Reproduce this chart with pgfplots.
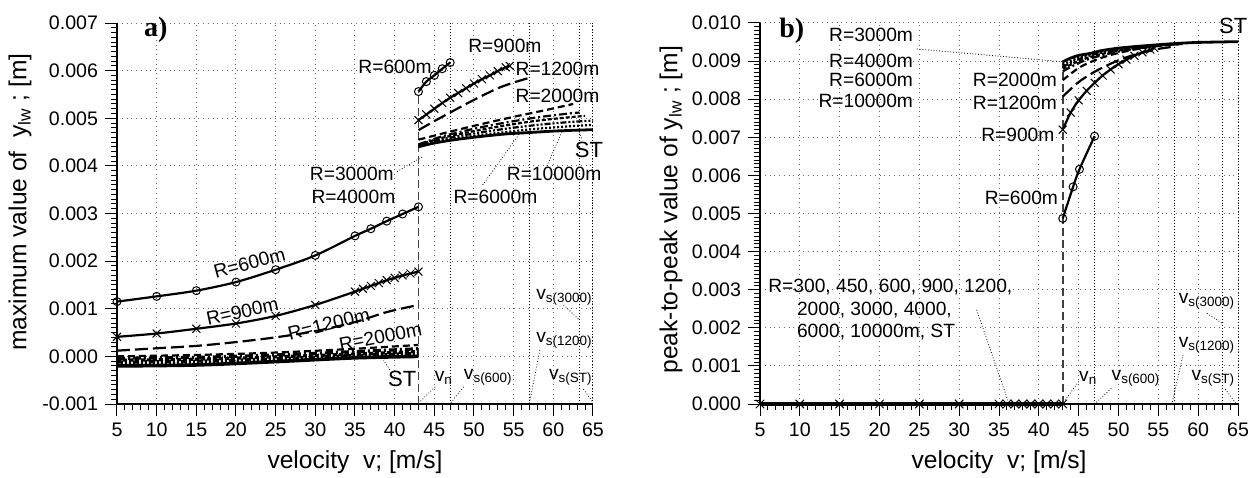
\documentclass[border=0pt]{standalone}
\usepackage{fontspec}
\setmainfont{Liberation Sans}
\newfontfamily\serifbf{Liberation Serif}
\usepackage{pgfplots}
\pgfplotsset{compat=1.18}
\tikzset{
  lab/.style={font=\fontsize{9.6bp}{11bp}\selectfont, inner sep=0pt},
  lead/.style={densely dotted, line width=0.4bp, black},
}
\pgfplotsset{
  myaxis/.style={
    scale only axis, height=190.5bp,
    xmin=5, xmax=65, xtick={5,10,...,65}, minor x tick num=4, minor y tick num=9,
    axis x line*=bottom, axis y line*=left,
    axis line style={-, line width=0.6bp},
    tick align=outside, major tick length=6bp, minor tick length=3bp,
    tick style={black, line width=0.5bp},
    grid=major, major grid style={dotted, black!60, line width=0.5bp},
    scaled y ticks=false,
    /pgf/number format/assume math mode=true,
    yticklabel style={/pgf/number format/fixed, /pgf/number format/fixed zerofill, /pgf/number format/precision=3},
    ticklabel style={font=\fontsize{9.8bp}{11bp}\selectfont},
    label style={font=\fontsize{12.3bp}{14bp}\selectfont},
    clip=false,
    xlabel={velocity\ \ v; [m/s]},
    xlabel style={at={(axis description cs:0.5,-0.152)}, anchor=center},
  },
  R600/.style={black, line width=1.1bp, smooth, mark=o, mark size=2bp, mark options={solid, line width=0.5bp}},
  R900/.style={black, line width=1.1bp, smooth, mark=x, mark size=2.8bp, mark options={solid, line width=0.5bp}},
  R1200/.style={black, line width=1.1bp, smooth, dash pattern=on 6.5bp off 2.5bp},
  R2000/.style={black, line width=1.1bp, smooth, dash pattern=on 3.5bp off 2bp},
  R3000/.style={black, line width=1.1bp, smooth, dash pattern=on 4bp off 1.5bp on 1bp off 1.5bp},
  R4000/.style={black, line width=1.1bp, smooth, dash pattern=on 2bp off 1bp},
  R6000/.style={black, line width=1.1bp, smooth, dash pattern=on 3bp off 1bp on 1bp off 1bp on 1bp off 1bp},
  R10000/.style={black, line width=1.1bp, smooth, dash pattern=on 1bp off 1bp},
  RST/.style={black, line width=1.4bp, smooth},
  vnline/.style={black!75, dash pattern=on 4bp off 2bp, line width=0.8bp},
  vsline/.style={black, densely dotted, line width=0.5bp},
}
\begin{document}
\begin{tikzpicture}
\path[use as bounding box] (-58.5bp,-37bp) rectangle (571.5bp,202bp);
% ================= a) =================
\begin{axis}[myaxis, width=238bp, at={(0,0)}, anchor=south west,
  ymin=-0.001, ymax=0.007,
  ytick={-0.001,0,0.001,0.002,0.003,0.004,0.005,0.006,0.007},
  ylabel={maximum value of\ \ y\textsubscript{lw} ; [m]},
  ylabel style={at={(axis description cs:-0.204,0.53)}, anchor=center},
]
\addplot[vnline] coordinates {(43,-0.001) (43,0.00556)};
\addplot[vsline] coordinates {(47,-0.001) (47,0.007)};
\addplot[vsline] coordinates {(57,-0.001) (57,0.007)};
\addplot[vsline] coordinates {(63.3,-0.001) (63.3,0.007)};
\addplot[vsline] coordinates {(65,-0.001) (65,0.007)};
% lower branch (v < vn)
\addplot[RST, line width=1.8bp] coordinates {(5,-0.0002)(15,-0.00018)(25,-0.00011)(35,-0.00003)(43,0.0)};
\addplot[R10000, line width=1.6bp] coordinates {(5,-0.00016)(15,-0.00014)(25,-0.00008)(35,-0.00001)(43,0.00003)};
\addplot[R6000, line width=1.6bp] coordinates {(5,-0.00012)(15,-0.0001)(25,-0.00005)(35,0.00002)(43,0.00006)};
\addplot[R4000, line width=1.6bp] coordinates {(5,-0.00008)(15,-0.00006)(25,-0.00001)(35,0.00005)(43,0.0001)};
\addplot[R3000, line width=1.6bp] coordinates {(5,-0.00004)(15,-0.00002)(25,0.00003)(35,0.0001)(43,0.00016)};
\addplot[R2000] coordinates {(5,0.0)(15,0.00003)(25,0.00008)(35,0.00016)(43,0.00024)};
\addplot[R1200] coordinates {(5,0.00012)(10,0.00017)(15,0.00022)(20,0.0003)(25,0.0004)(30,0.00053)(35,0.00072)(39,0.00093)(43,0.00108)};
\addplot[R900] coordinates {(5,0.00041)(10,0.00048)(15,0.00058)(20,0.00069)(25,0.00085)(30,0.00108)(35,0.00136)(36,0.00142)(37,0.00148)(38,0.00154)(39,0.0016)(40,0.00165)(41,0.0017)(42,0.00174)(43,0.00178)};
\addplot[R600] coordinates {(5,0.00115)(10,0.00126)(15,0.00138)(20,0.00156)(25,0.00182)(30,0.00212)(35,0.00253)(37,0.00268)(39,0.00284)(41,0.00299)(43,0.00314)};
% upper branch (v > vn)
\addplot[RST] coordinates {(43,0.0044)(45,0.00448)(48,0.00456)(51,0.00462)(54,0.00467)(57,0.0047)(60,0.00473)(63,0.00475)(65,0.00476)};
\addplot[R10000] coordinates {(43,0.00442)(46,0.00453)(50,0.00463)(54,0.00471)(58,0.00478)(62,0.00483)(65,0.00486)};
\addplot[R6000] coordinates {(43,0.00443)(46,0.00456)(50,0.00468)(54,0.00478)(58,0.00486)(62,0.00492)(65,0.00495)};
\addplot[R4000] coordinates {(43,0.00444)(46,0.00459)(50,0.00473)(54,0.00485)(58,0.00495)(62,0.00502)(64,0.00505)};
\addplot[R3000] coordinates {(43,0.00445)(46,0.00462)(50,0.00478)(54,0.00491)(58,0.00502)(62,0.0051)(63.3,0.00512)};
\addplot[R2000] coordinates {(43,0.00455)(47,0.00472)(51,0.00488)(55,0.00503)(59,0.00517)(62.5,0.0053)};
\addplot[R1200] coordinates {(43,0.00475)(45,0.00494)(47,0.00512)(49,0.0053)(51,0.00547)(53,0.00563)(55,0.00575)(57,0.00585)};
\addplot[R900] coordinates {(43,0.00496)(44,0.00508)(45,0.0052)(46,0.00532)(47,0.00543)(48,0.00553)(49,0.00563)(50,0.00573)(51,0.00582)(52,0.0059)(53,0.00599)(54,0.00607)(54.5,0.0061)};
\addplot[R600] coordinates {(43,0.00556)(44,0.00577)(45,0.0059)(46,0.00604)(47,0.00617)};
% labels
\node[font=\serifbf\bfseries\fontsize{14bp}{16bp}\selectfont, inner sep=0pt] at (axis cs:9.9,0.00686) {a)};
\node[lab, anchor=east] at (axis cs:44.7,0.00608) {R=600m};
\node[lab] at (axis cs:53.9,0.00652) {R=900m};
\node[lab, anchor=west] at (axis cs:55.2,0.00603) {R=1200m};
\node[lab, anchor=west] at (axis cs:55.2,0.00547) {R=2000m};
\node[lab, font=\fontsize{11bp}{12bp}\selectfont] at (axis cs:64.5,0.00434) {ST};
\node[lab] at (axis cs:60.1,0.00383) {R=10000m};
\node[lab] at (axis cs:52.7,0.00334) {R=6000m};
\node[lab] at (axis cs:34.6,0.00383) {R=3000m};
\node[lab] at (axis cs:34.8,0.00334) {R=4000m};
\draw[lead] (axis cs:40.3,0.00388) -- (axis cs:43.6,0.0042);
\draw[lead] (axis cs:51.1,0.0036) -- (axis cs:55.8,0.00469);
\draw[lead] (axis cs:59.2,0.004) -- (axis cs:61.1,0.00472);
\draw[lead] (axis cs:63.6,0.00458) -- (axis cs:63.2,0.00472);
\node[lab, rotate=15] at (axis cs:21.7,0.00196) {R=600m};
\node[lab, rotate=12.5] at (axis cs:20.8,0.00094) {R=900m};
\node[lab, rotate=14] at (axis cs:31.7,0.00068) {R=1200m};
\node[lab, rotate=11] at (axis cs:38.2,0.00041) {R=2000m};
\node[lab, font=\fontsize{11bp}{12bp}\selectfont] at (axis cs:40.95,-0.00048) {ST};
\draw[lead] (axis cs:39.4,-0.00028) -- (axis cs:38.6,-0.00008);
\node[lab] at (axis cs:46.2,-0.00045) {v\textsubscript{n}};
\node[lab] at (axis cs:51.8,-0.00045) {v\textsubscript{s(600)}};
\node[lab] at (axis cs:61.4,0.00034) {v\textsubscript{s(1200)}};
\node[lab] at (axis cs:61.4,0.00123) {v\textsubscript{s(3000)}};
\node[lab] at (axis cs:62.2,-0.00045) {v\textsubscript{s(ST)}};
\draw[lead] (axis cs:45.1,-0.00064) -- (axis cs:43.2,-0.00095);
\draw[lead] (axis cs:48.7,-0.00064) -- (axis cs:47.1,-0.00097);
\draw[lead] (axis cs:58.3,0.00013) -- (axis cs:57,-0.00097);
\draw[lead] (axis cs:61.3,0.00108) -- (axis cs:63.3,0.00076);
\draw[lead] (axis cs:63.8,-0.00069) -- (axis cs:65,-0.00097);
\end{axis}
% ================= b) =================
\begin{axis}[myaxis, width=239bp, at={(321.5bp,0)}, anchor=south west,
  ymin=0, ymax=0.010,
  ytick={0,0.001,0.002,0.003,0.004,0.005,0.006,0.007,0.008,0.009,0.010},
  ylabel={peak-to-peak value of y\textsubscript{lw} ; [m]},
  ylabel style={at={(axis description cs:-0.186,0.51)}, anchor=center},
]
\addplot[vnline] coordinates {(43,0) (43,0.009)};
\addplot[vsline] coordinates {(47,0) (47,0.010)};
\addplot[vsline] coordinates {(57,0) (57,0.010)};
\addplot[vsline] coordinates {(63,0) (63,0.010)};
\addplot[vsline] coordinates {(65,0) (65,0.010)};
% lower branch: all radii at zero
\addplot[black, line width=1.6bp, mark=x, mark size=3bp, mark options={solid, line width=0.5bp}] coordinates {(5,0)(10,0)(15,0)(20,0)(25,0)(30,0)(35,0)(36,0)(37,0)(38,0)(39,0)(40,0)(41,0)(42,0)(43,0)};
% upper branch
\addplot[R2000] coordinates {(43,0.0085)(45,0.00882)(47,0.00902)(49,0.00916)(51,0.00926)(53,0.00934)(55,0.0094)(58,0.00945)};
\addplot[R3000] coordinates {(43,0.00873)(45,0.00895)(47,0.0091)(50,0.00925)(53,0.00935)(56,0.00942)(58,0.00945)};
\addplot[R4000] coordinates {(43,0.0088)(45,0.009)(47,0.00914)(50,0.00928)(53,0.00937)(56,0.00943)};
\addplot[R6000] coordinates {(43,0.00885)(45,0.00905)(47,0.00918)(50,0.0093)(53,0.00938)(56,0.00943)(58,0.00946)};
\addplot[R10000] coordinates {(43,0.0089)(45,0.0091)(47,0.00922)(50,0.00932)(53,0.00939)(56,0.00944)(58,0.00947)};
\addplot[RST] coordinates {(43,0.00898)(44,0.00908)(45,0.00915)(46.4,0.0092)(48,0.00928)(50,0.00934)(52,0.00938)(54.4,0.00942)(57,0.00946)(60,0.00949)(65,0.00951)};
\addplot[R1200] coordinates {(43,0.00807)(45,0.00845)(47,0.00872)(49,0.00893)(51,0.0091)(53,0.00922)(55,0.00932)(57,0.00938)};
\addplot[R900] coordinates {(43,0.0072)(44,0.00765)(45,0.00797)(46,0.00822)(47,0.00843)(48,0.00862)(49,0.00878)(50,0.00892)(51,0.00904)(52,0.00914)(53,0.00923)(54,0.0093)(54.5,0.00934)};
\addplot[R600] coordinates {(43,0.00487)(44.3,0.0057)(45.1,0.00616)(47,0.00703)};
% labels
\node[font=\serifbf\bfseries\fontsize{14bp}{16bp}\selectfont, inner sep=0pt] at (axis cs:9.0,0.0098) {b)};
\node[lab, anchor=east] at (axis cs:24.25,0.00969) {R=3000m};
\node[lab, anchor=east] at (axis cs:24.25,0.00901) {R=4000m};
\node[lab, anchor=east] at (axis cs:24.25,0.0085) {R=6000m};
\node[lab, anchor=east] at (axis cs:24.25,0.00796) {R=10000m};
\draw[lead] (axis cs:24.7,0.00932) -- (axis cs:43,0.00898);
\node[lab, anchor=east] at (axis cs:42.3,0.0085) {R=2000m};
\node[lab, anchor=east] at (axis cs:42.3,0.00789) {R=1200m};
\node[lab, anchor=east] at (axis cs:42.0,0.00706) {R=900m};
\node[lab, anchor=east] at (axis cs:42.45,0.0054) {R=600m};
\node[lab, font=\fontsize{11bp}{12bp}\selectfont] at (axis cs:64.4,0.00993) {ST};
\node[lab, anchor=west] at (axis cs:6.0,0.00306) {R=300, 450, 600, 900, 1200,};
\node[lab, anchor=west] at (axis cs:9.6,0.00247) {2000, 3000, 4000,};
\node[lab, anchor=west] at (axis cs:9.6,0.0019) {6000, 10000m, ST};
\draw[lead] (axis cs:32.2,0.00247) -- (axis cs:36.1,0.0001);
\node[lab] at (axis cs:46.2,0.00068) {v\textsubscript{n}};
\node[lab] at (axis cs:52.2,0.00068) {v\textsubscript{s(600)}};
\node[lab] at (axis cs:61.1,0.00155) {v\textsubscript{s(1200)}};
\node[lab] at (axis cs:61.1,0.00269) {v\textsubscript{s(3000)}};
\node[lab] at (axis cs:61.9,0.00068) {v\textsubscript{s(ST)}};
\draw[lead] (axis cs:45,0.00059) -- (axis cs:43.3,0.0001);
\draw[lead] (axis cs:49.1,0.00041) -- (axis cs:47,0);
\draw[lead] (axis cs:58.1,0.00129) -- (axis cs:56.7,0);
\draw[lead] (axis cs:61.1,0.00238) -- (axis cs:63,0.00212);
\draw[lead] (axis cs:63.4,0.00039) -- (axis cs:64.8,0);
\end{axis}
\end{tikzpicture}
\end{document}
